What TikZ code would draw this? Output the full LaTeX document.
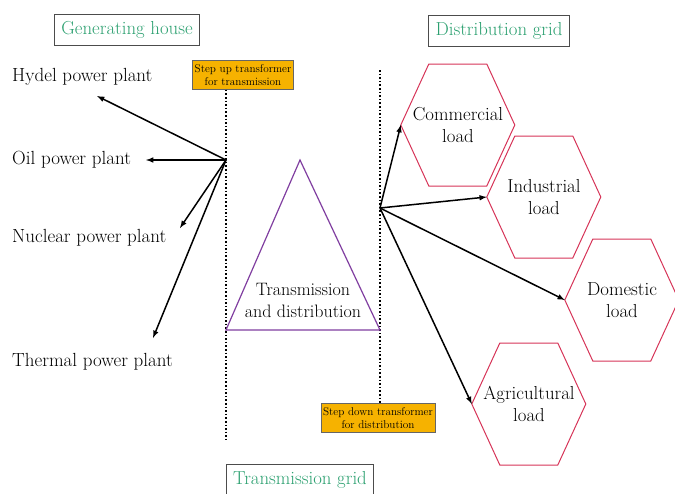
\documentclass[tikz,border=0pt]{standalone}
\usepackage{tikz}
\usetikzlibrary{arrows}
\definecolor{gridgreen}{RGB}{44,160,112}
\definecolor{boxorange}{RGB}{246,178,0}
\definecolor{tripurple}{RGB}{128,62,160}
\definecolor{hexred}{RGB}{214,52,88}
\begin{document}
\begin{tikzpicture}[x=1pt,y=-1pt]
    \tikzstyle{gridlabel}=[draw=black!70,line width=0.8pt,text=gridgreen,font=\fontsize{18.8}{21}\selectfont,inner xsep=7pt,minimum height=31pt]
    \tikzstyle{plant}=[anchor=west,inner sep=0pt,font=\fontsize{19}{21}\selectfont]
    \tikzstyle{xformer}=[draw=black!60,fill=boxorange,line width=0.6pt,align=center,inner xsep=2pt,inner ysep=4pt,font=\fontsize{11.2}{12.8}\selectfont]
    \tikzstyle{load}=[align=center,minimum width=114pt,inner sep=0pt,font=\fontsize{18.8}{22}\selectfont]
    \tikzstyle{hex}=[draw=hexred,line width=1pt]
    \tikzstyle{feed}=[-latex,line width=1.5pt]
    \tikzstyle{bus}=[dotted,line width=1.6pt]

    \useasboundingbox (0,0) rectangle (675,493);

    % grid labels
    \node[gridlabel] (gen-house) at (127,30) {Generating house};
    \node[gridlabel] (dist-grid) at (499,31) {Distribution grid};
    \node[gridlabel] (trans-grid) at (300,480) {Transmission grid};

    % transformers
    \node[xformer] (step-up) at (243,75) {Step up transformer\\for transmission};
    \node[xformer] (step-down) at (378,418) {Step down transformer\\for distribution};

    % power plants
    \foreach \name/\y/\txt in {hydel/77/Hydel power plant, oil/160/Oil power plant, nuclear/238/Nuclear power plant, thermal/362/Thermal power plant}
        \node[plant] (\name) at (12,\y) {\txt};

    \coordinate (gen) at (226,160);
    \coordinate (dist) at (380,208);
    \coordinate (up-end) at (226,440);
    \coordinate (down-top) at (380,70);

    \draw[bus] (step-up.south -| gen) -- (up-end);
    \draw[bus] (down-top) -- (step-down.north -| dist);

    \foreach \name/\x/\y in {hydel/97/96, oil/146/160, nuclear/180/228, thermal/153/338}
        \coordinate (\name-in) at (\x,\y);
    \foreach \name in {hydel, oil, nuclear, thermal}
        \draw[feed] (gen) -- (\name-in);

    % transmission and distribution
    \coordinate (tri-top) at (300,160);
    \coordinate (tri-left) at (226,330);
    \coordinate (tri-right) at (380,330);
    \draw[tripurple,line width=1.2pt] (tri-top) -- (tri-right) -- (tri-left) -- cycle;
    \node[align=center,font=\fontsize{18}{22}\selectfont] (td) at (303,300) {Transmission\\and distribution};

    % loads
    \foreach \name/\x/\y/\txt in {comm/458/125/Commercial, indus/544/197/Industrial, dom/622/300/Domestic, agri/529/404/Agricultural}
    {
        \node[load] (\name) at (\x,\y) {\txt\\load};
        \draw[hex] (\name.west) -- ++(28,-61) -- ++(58,0) -- ++(28,61) -- ++(-28,61) -- ++(-58,0) -- cycle;
        \draw[feed] (dist) -- (\name.west);
    }

\end{tikzpicture}
\end{document}
